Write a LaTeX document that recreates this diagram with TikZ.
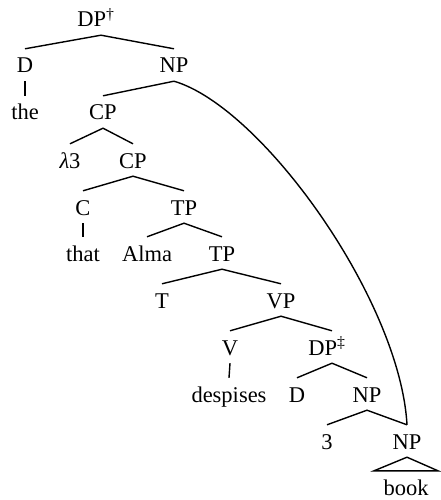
\documentclass[tikz,border=0pt]{standalone}
\usepackage{fontspec}
\setmainfont{Liberation Serif}
\begin{document}
\begin{tikzpicture}[x=1pt,y=-1pt,
  lbl/.style={anchor=base, inner xsep=0pt, inner ysep=8pt, text height=16pt, text depth=0pt,
    font=\fontsize{22.5}{27}\selectfont},
  branch/.style={line width=1.4pt}]
\useasboundingbox (0,0) rectangle (440,500);
% nodes
\node[lbl] (dp0) at (96,27) {DP\textsuperscript{†}};
\node[lbl] (d1) at (25,73) {D};
\node[lbl] (np1) at (174,73) {NP};
\node[lbl] (the) at (25,120) {the};
\node[lbl] (cp1) at (103,120) {CP};
\node[lbl] (lam) at (70,168) {\textit{λ}3};
\node[lbl] (cp2) at (133,168) {CP};
\node[lbl] (c) at (83,215) {C};
\node[lbl] (tp1) at (184,215) {TP};
\node[lbl] (that) at (83,261) {that};
\node[lbl] (alma) at (147,261) {Alma};
\node[lbl] (tp2) at (222,261) {TP};
\node[lbl] (t) at (162,308) {T};
\node[lbl] (vp) at (281,308) {VP};
\node[lbl] (v) at (230,355) {V};
\node[lbl] (dp2) at (327,355) {DP\textsuperscript{‡}};
\node[lbl] (desp) at (229,402) {despises};
\node[lbl] (d2) at (297,402) {D};
\node[lbl] (np2) at (367,402) {NP};
\node[lbl] (three) at (327,449) {3};
\node[lbl] (np3) at (407,449) {NP};
\node[lbl] (book) at (406,495) {book};
% branches
\draw[branch] (d1.north) -- ([xshift=5pt]dp0.south) -- (np1.north);
\draw[branch] (d1.south) -- (the.north);
\draw[branch] (np1.south) -- (cp1.north);
\draw[branch] (lam.north) -- (cp1.south) -- (cp2.north);
\draw[branch] (c.north) -- (cp2.south) -- (tp1.north);
\draw[branch] (c.south) -- (that.north);
\draw[branch] (alma.north) -- (tp1.south) -- (tp2.north);
\draw[branch] (t.north) -- (tp2.south) -- (vp.north);
\draw[branch] (v.north) -- (vp.south) -- ([xshift=5pt]dp2.north);
\draw[branch] (v.south) -- (desp.north);
\draw[branch] (d2.north) -- ([xshift=5pt]dp2.south) -- (np2.north);
\draw[branch] (three.north) -- (np2.south) -- (np3.north);
\draw[branch] (np3.south) -- ([xshift=-32pt]book.north) -- ([xshift=32pt]book.north) -- cycle;
% movement curve
\draw[branch] (np1.south) .. controls (262,107) and (400,300) .. (np3.north);
\end{tikzpicture}
\end{document}
